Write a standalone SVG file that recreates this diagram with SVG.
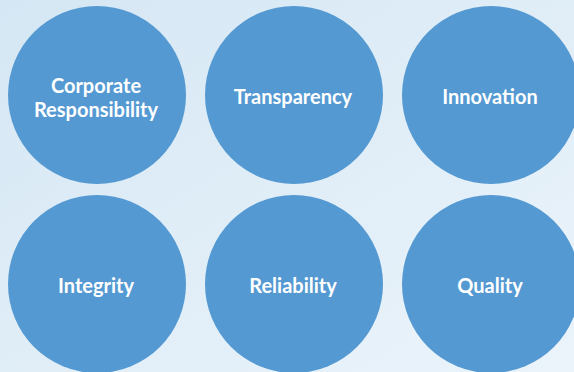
<svg xmlns="http://www.w3.org/2000/svg" width="574" height="372" viewBox="0 0 574 372">
<defs>
<linearGradient id="bg" x1="0" y1="0" x2="1" y2="1">
<stop offset="0" stop-color="#d5e7f4"/>
<stop offset="1" stop-color="#ebf4fb"/>
</linearGradient>
</defs>
<style>
.c{fill:#5499d2}
.t{font-family:Lato,"Open Sans",sans-serif;font-weight:bold;font-size:20px;fill:#fff;text-anchor:middle}
</style>
<rect width="574" height="372" fill="url(#bg)"/>
<g id="connectors"/>
<g id="n1"><circle class="c" cx="97" cy="95" r="89"/><text class="t" x="96" y="92.5">Corporate</text><text class="t" x="96" y="116.5">Responsibility</text></g>
<g id="n2"><circle class="c" cx="294" cy="95" r="89"/><text class="t" x="293" y="104">Transparency</text></g>
<g id="n3"><circle class="c" cx="491" cy="95" r="89"/><text class="t" x="490" y="104">Innovation</text></g>
<g id="n4"><circle class="c" cx="97" cy="284" r="89"/><text class="t" x="96" y="293">Integrity</text></g>
<g id="n5"><circle class="c" cx="294" cy="284" r="89"/><text class="t" x="293" y="293">Reliability</text></g>
<g id="n6"><circle class="c" cx="491" cy="284" r="89"/><text class="t" x="490" y="293">Quality</text></g>
</svg>
